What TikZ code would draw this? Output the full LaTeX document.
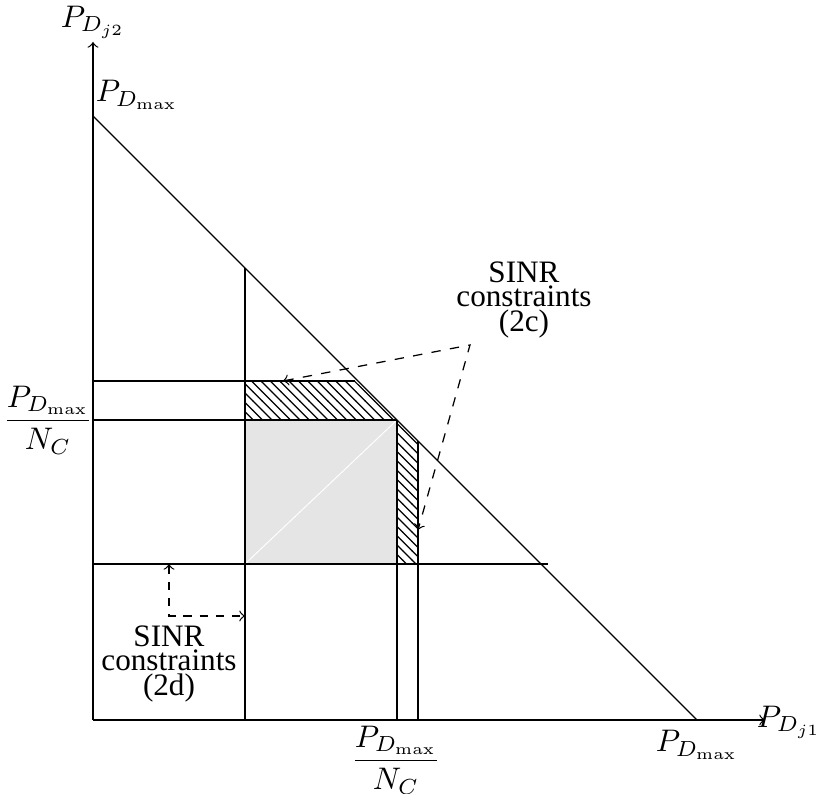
\documentclass[tikz,border=0pt]{standalone}
\usepackage[no-math]{fontspec}
\setmainfont{Liberation Serif}
\usetikzlibrary{patterns}
\begin{document}
\begin{tikzpicture}[x=0.3205pt,y=-0.3205pt,
  guide/.style={line width=0.4pt},
  hatch/.style={pattern=north west lines},
  shade/.style={fill=black!10},
  dasharrow/.style={dashed,<->},
  dasharrowb/.style={dash pattern=on 2.7pt off 2.5pt,<->},
  lbl/.style={inner sep=0pt,align=center,font=\fontsize{10}{7.8}\selectfont},
  mlbl/.style={inner sep=0pt}]
\useasboundingbox (0,0) rectangle (816,794);
% key points
\coordinate (O) at (93,720);
\coordinate (Ytip) at (93,42);
\coordinate (Xtip) at (765,720);
\coordinate (Dtop) at (93,116);
\coordinate (Dbot) at (697,720);
\coordinate (V1b) at (245,720);
\coordinate (V1t) at (245,268);
\coordinate (H1l) at (93,564);
\coordinate (H1r) at (548,564);
\coordinate (H2l) at (93,381);
\coordinate (H2r) at (355,381);
\coordinate (H3l) at (93,420);
\coordinate (H3r) at (397,420);
\coordinate (V2b) at (397,720);
\coordinate (V3b) at (418,720);
\coordinate (V3t) at (418,441);
\coordinate (SqA) at (245,420);
\coordinate (SqB) at (397,564);
\coordinate (SqC) at (245,564);
\coordinate (HtA) at (245,381);
\coordinate (HrB) at (418,564);
% fills
\fill[shade] (SqA) rectangle (SqB);
\draw[white,line width=0.3pt] (SqC) -- (H3r);
\fill[hatch] (HtA) -- (H2r) -- (H3r) -- (SqA) -- cycle;
\fill[hatch] (H3r) -- (V3t) -- (HrB) -- (SqB) -- cycle;
% axes
\draw[->] (O) -- (Ytip);
\draw[->] (O) -- (Xtip);
% lines
\draw[guide] (Dtop) -- (Dbot);
\draw[guide] (V1b) -- (V1t);
\draw[guide] (H1l) -- (H1r);
\draw[guide] (H2l) -- (H2r);
\draw[guide] (H3l) -- (H3r);
\draw[guide] (V2b) -- (H3r);
\draw[guide] (V3b) -- (V3t);
% labels
\node[mlbl] (ylab) at (93,22) {$P_{D_{j2}}$};
\node[mlbl] (xlab) at (789,722) {$P_{D_{j1}}$};
\node[mlbl] (ptop) at (137,95) {$P_{D_{\max}}$};
\node[mlbl] (pright) at (697,745) {$P_{D_{\max}}$};
\node[mlbl] (fleft) at (48,420) {$\displaystyle\frac{P_{D_{\max}}}{N_C}$};
\node[mlbl] (fbot) at (396,760) {$\displaystyle\frac{P_{D_{\max}}}{N_C}$};
\node[lbl] (c2c) at (524,300) {SINR\\constraints\\(2c)};
\node[lbl] (c2d) at (169,664) {SINR\\constraints\\(2d)};
% dashed arrows
\coordinate (cA) at (283,381);
\coordinate (cK) at (470,345);
\coordinate (cB) at (418,530);
\draw[dasharrow] (cA) -- (cK) -- (cB);
\coordinate (dA) at (169,564);
\coordinate (dK) at (169,616);
\coordinate (dB) at (245,616);
\draw[dasharrowb] (dA) -- (dK) -- (dB);
\end{tikzpicture}
\end{document}
